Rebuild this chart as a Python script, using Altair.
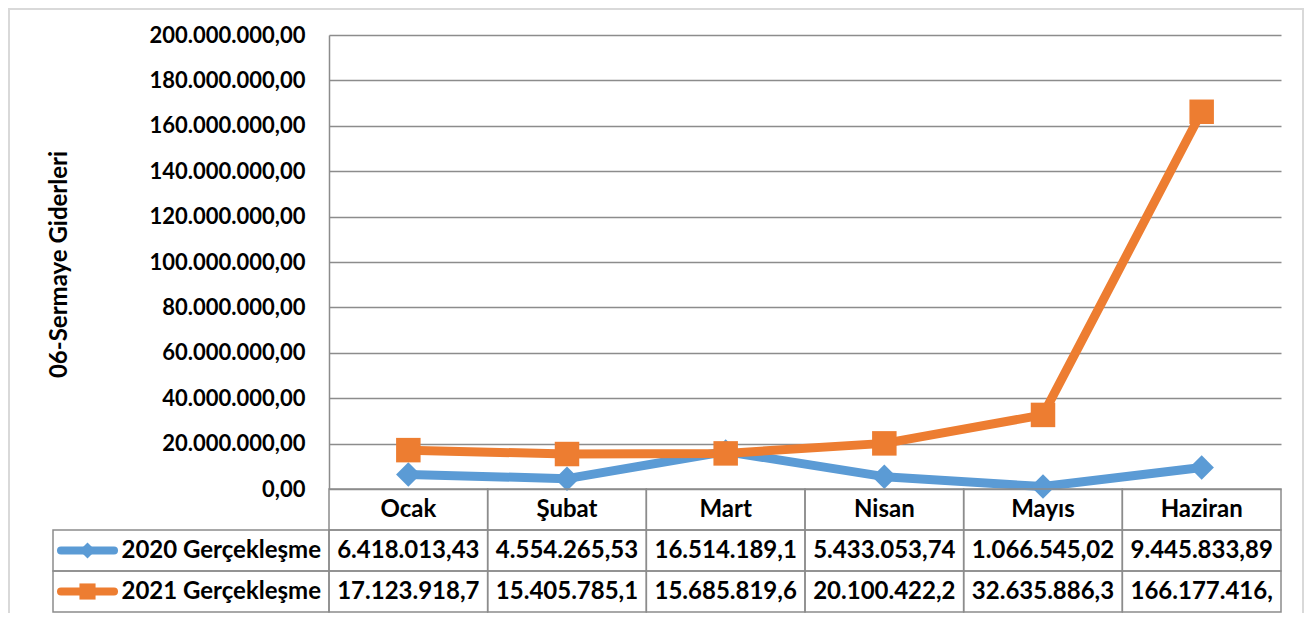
import altair as alt
import pandas as pd

# ---------------- data ----------------
months = ["Ocak", "Şubat", "Mart", "Nisan", "Mayıs", "Haziran"]
series = ["2020 Gerçekleşme", "2021 Gerçekleşme"]
values_2020 = [6418013.43, 4554265.53, 16514189.10, 5433053.74, 1066545.02, 9445833.89]
values_2021 = [17123918.70, 15405785.10, 15685819.60, 20100422.20, 32635886.30, 166177416.00]
y_title = "06-Sermaye Giderleri"
header_key = "Ay"

# ---------------- styles ----------------
BLUE = "#5B9BD5"
ORANGE = "#ED7D31"
GRID = "#8C8C8C"
FRAME = "#D9D9D9"
FONT = "Lato"

W, H = 952, 577      # plot + data-table area
PLOT_H = 454         # line-chart part


def tr_fmt(v, width=12):
    """Turkish number format, cut to the cell width like Excel's data table."""
    s = f"{v:,.2f}".replace(",", "#").replace(".", ",").replace("#", ".")
    return s[:width]


long = pd.DataFrame({
    "month": months * 2,
    "idx": list(range(len(months))) * 2,
    "series": [series[0]] * len(months) + [series[1]] * len(months),
    "value": values_2020 + values_2021,
})

cells = pd.DataFrame(
    [{"row": header_key, "month": m, "text": m} for m in months]
    + [
        {"row": s, "month": m, "text": tr_fmt(v)}
        for s, vals in zip(series, [values_2020, values_2021])
        for m, v in zip(months, vals)
    ]
)
keys = pd.DataFrame({"series": series})

# ---------------- scales ----------------
x_scale = alt.Scale(type="band", domain=months, paddingInner=0, paddingOuter=0)
val_scale = alt.Scale(domain=[0, 200_000_000], range=[PLOT_H, 0], nice=False)
row_scale = alt.Scale(type="band", domain=[header_key] + series, range=[PLOT_H, H],
                      paddingInner=0, paddingOuter=0)
color_scale = alt.Scale(domain=series, range=[BLUE, ORANGE])
shape_scale = alt.Scale(domain=series, range=["diamond", "square"])

xc = alt.X("month:N", scale=x_scale, axis=None, bandPosition=0.5)
color = alt.Color("series:N", scale=color_scale, legend=None)
shape = alt.Shape("series:N", scale=shape_scale, legend=None)

y_axis = alt.Axis(
    tickCount=10, format=",.2f", grid=True, gridColor=GRID, gridWidth=1.5,
    domain=True, domainColor=GRID, domainWidth=1.5, ticks=False,
    labelFont=FONT, labelFontSize=22, labelFontWeight="bold", labelColor="black",
    labelPadding=24,
    titleFont=FONT, titleFontSize=24, titleFontWeight="bold", titleColor="black",
    titleX=-270, titleY=229, titleAngle=270, titleAlign="center", titleBaseline="middle",
)

# ---------------- line chart ----------------
lines = alt.Chart(long).mark_line(strokeWidth=9, strokeJoin="round").encode(
    x=xc,
    y=alt.Y("value:Q", scale=val_scale, axis=y_axis, title=y_title),
    color=color,
    order=alt.Order("idx:Q"),
)
points = alt.Chart(long).mark_point(filled=True, size=600, opacity=1).encode(
    x=xc,
    y=alt.Y("value:Q", scale=val_scale, axis=y_axis, title=y_title),
    color=color,
    shape=shape,
)
plot = alt.layer(lines, points)

# ---------------- data table ----------------
yrow = alt.Y("row:N", scale=row_scale, axis=None)
yrow_c = alt.Y("row:N", scale=row_scale, axis=None, bandPosition=0.5)
ykey_c = alt.Y("series:N", scale=row_scale, axis=None, bandPosition=0.5)

cell_box = alt.Chart(cells).mark_rect(fillOpacity=0, stroke=GRID, strokeWidth=1.5).encode(
    x=alt.X("month:N", scale=x_scale, axis=None),
    y=yrow,
)
cell_txt = alt.Chart(cells).mark_text(
    font=FONT, fontSize=24, fontWeight="bold", color="black", align="center", baseline="middle"
).encode(x=xc, y=yrow_c, text="text:N")

key_box = alt.Chart(keys).mark_rect(fillOpacity=0, stroke=GRID, strokeWidth=1.5).encode(
    x=alt.value(-276), x2=alt.value(0),
    y=alt.Y("series:N", scale=row_scale, axis=None),
)
key_txt = alt.Chart(keys).mark_text(
    font=FONT, fontSize=24, fontWeight="bold", color="black", align="right", baseline="middle"
).encode(x=alt.value(-8), y=ykey_c, text="series:N")
key_line = alt.Chart(keys).mark_rule(strokeWidth=8, strokeCap="round").encode(
    x=alt.value(-268), x2=alt.value(-215), y=ykey_c, color=color,
)
key_pt = alt.Chart(keys).mark_point(filled=True, size=260, opacity=1).encode(
    x=alt.value(-241.5), y=ykey_c, color=color, shape=shape,
)
table = alt.layer(cell_box, cell_txt, key_box, key_txt, key_line, key_pt)

# ---------------- outer frame ----------------
frame = alt.Chart(alt.Data(values=[{}])).mark_rect(
    fillOpacity=0, stroke=FRAME, strokeWidth=2
).encode(x=alt.value(-320), x2=alt.value(974), y=alt.value(-26), y2=alt.value(H + 40))

chart = (
    alt.layer(frame, plot, table)
    .resolve_scale(y="independent")
    .properties(
        width=W, height=H,
        autosize=alt.AutoSizeParams(type="none"),
        padding={"left": 321, "top": 27, "right": 24, "bottom": 1},
    )
    .configure(
        locale=alt.Locale(number=alt.NumberLocale(
            decimal=",", thousands=".", grouping=[3], currency=["", ""])),
    )
    .configure_view(stroke="transparent")
)

chart.save("out.html", embed_options={"renderer": "svg", "actions": False})
